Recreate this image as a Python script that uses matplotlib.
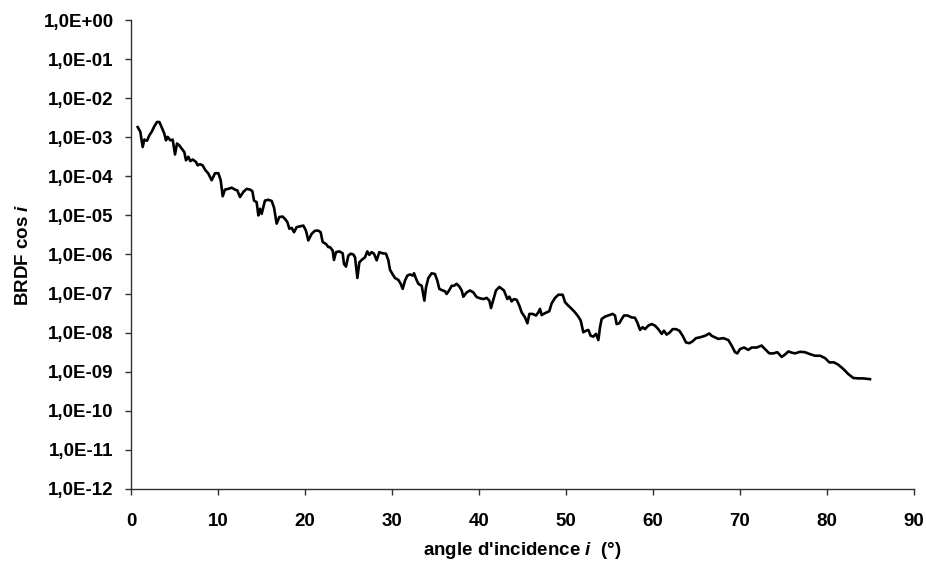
import numpy as np
import matplotlib
matplotlib.use("Agg")
import matplotlib.pyplot as plt
from matplotlib.ticker import FixedLocator, FuncFormatter

# angle d'incidence (deg) et log10(BRDF cos i)
angle_deg = [
    0.77, 1.07, 1.34, 1.53, 1.84, 2.11, 2.38, 2.68, 2.99, 3.26, 3.52, 3.83, 4.02, 4.21, 4.52,
    4.79, 5.06, 5.29, 5.56, 5.82, 6.13, 6.32, 6.59, 6.82, 7.09, 7.47, 7.66, 7.93, 8.24, 8.51,
    8.89, 9.27, 9.66, 10.04, 10.31, 10.54, 10.80, 11.19, 11.57, 11.95, 12.22, 12.53, 12.91,
    13.30, 13.68, 13.95, 14.14, 14.44, 14.64, 14.83, 15.02, 15.40, 15.79, 16.17, 16.44, 16.74,
    17.05, 17.43, 17.70, 17.97, 18.20, 18.47, 18.74, 19.04, 19.43, 19.81, 20.11, 20.38, 20.77,
    21.15, 21.53, 21.80, 22.03, 22.41, 22.68, 22.87, 23.18, 23.33, 23.56, 23.95, 24.33, 24.48,
    24.71, 24.98, 25.25, 25.56, 25.75, 26.02, 26.25, 26.51, 26.90, 27.16, 27.39, 27.66, 27.93,
    28.24, 28.54, 28.93, 29.31, 29.58, 29.77, 30.08, 30.34, 30.73, 31.00, 31.23, 31.49, 31.76,
    32.07, 32.38, 32.53, 32.76, 33.03, 33.41, 33.72, 33.91, 34.18, 34.56, 34.94, 35.21, 35.44,
    35.82, 36.09, 36.28, 36.59, 36.86, 37.13, 37.43, 37.74, 38.01, 38.20, 38.58, 38.97, 39.35,
    39.73, 40.11, 40.50, 40.88, 41.19, 41.38, 41.65, 41.95, 42.34, 42.87, 43.26, 43.49, 43.75,
    44.02, 44.33, 44.64, 44.90, 45.29, 45.56, 45.79, 46.17, 46.55, 46.82, 47.01, 47.20, 47.59,
    48.08, 48.35, 48.74, 49.12, 49.62, 49.89, 50.27, 50.65, 51.03, 51.42, 51.69, 51.99, 52.30,
    52.57, 52.84, 53.14, 53.45, 53.72, 53.91, 54.10, 54.48, 54.87, 55.36, 55.63, 55.82, 56.13,
    56.40, 56.67, 57.05, 57.55, 57.93, 58.20, 58.51, 58.81, 59.08, 59.46, 59.85, 60.23, 60.61,
    61.00, 61.26, 61.57, 61.95, 62.26, 62.64, 63.03, 63.41, 63.79, 64.18, 64.56, 64.94, 65.40,
    65.98, 66.48, 66.74, 67.13, 67.51, 68.08, 68.66, 69.04, 69.43, 69.69, 70.00, 70.46, 70.96,
    71.34, 71.92, 72.49, 72.87, 73.37, 73.83, 74.29, 74.79, 75.17, 75.56, 75.94, 76.32, 76.90,
    77.47, 78.05, 78.62, 79.20, 79.77, 80.27, 80.80, 81.30, 81.88, 82.45, 83.03, 83.60, 84.18,
    84.94,
]
log10_brdf = [
    -2.74, -2.86, -3.25, -3.06, -3.09, -2.95, -2.86, -2.72, -2.61, -2.61, -2.74, -2.91, -3.08,
    -2.99, -3.08, -3.06, -3.44, -3.16, -3.21, -3.29, -3.38, -3.59, -3.50, -3.61, -3.57, -3.63,
    -3.72, -3.69, -3.72, -3.83, -3.93, -4.10, -3.92, -3.92, -4.10, -4.51, -4.34, -4.32, -4.29,
    -4.34, -4.36, -4.53, -4.40, -4.32, -4.34, -4.38, -4.62, -4.66, -5.00, -4.83, -4.96, -4.62,
    -4.60, -4.63, -4.80, -5.21, -5.04, -5.03, -5.09, -5.17, -5.34, -5.32, -5.43, -5.30, -5.28,
    -5.26, -5.39, -5.64, -5.47, -5.39, -5.39, -5.43, -5.68, -5.73, -5.81, -5.81, -5.90, -6.14,
    -5.94, -5.92, -5.97, -6.24, -6.31, -6.03, -5.98, -6.00, -6.07, -6.60, -6.20, -6.14, -6.07,
    -5.92, -6.01, -5.94, -5.98, -6.15, -5.94, -5.97, -5.98, -6.15, -6.39, -6.51, -6.60, -6.65,
    -6.75, -6.88, -6.67, -6.54, -6.51, -6.54, -6.48, -6.62, -6.75, -6.80, -7.18, -6.84, -6.60,
    -6.48, -6.50, -6.67, -6.88, -6.92, -6.94, -7.01, -6.91, -6.80, -6.80, -6.75, -6.82, -6.92,
    -7.08, -6.97, -6.92, -6.97, -7.09, -7.12, -7.14, -7.11, -7.18, -7.37, -7.16, -6.92, -6.83,
    -6.92, -7.14, -7.08, -7.20, -7.14, -7.16, -7.31, -7.48, -7.61, -7.76, -7.52, -7.52, -7.56,
    -7.48, -7.39, -7.55, -7.50, -7.45, -7.25, -7.11, -7.03, -7.03, -7.22, -7.31, -7.39, -7.48,
    -7.59, -7.69, -7.99, -7.95, -7.93, -8.08, -8.10, -8.03, -8.19, -7.86, -7.65, -7.59, -7.56,
    -7.52, -7.56, -7.78, -7.76, -7.65, -7.56, -7.56, -7.61, -7.62, -7.74, -7.93, -7.86, -7.91,
    -7.82, -7.78, -7.82, -7.91, -8.03, -7.95, -8.05, -7.99, -7.91, -7.91, -7.95, -8.08, -8.25,
    -8.27, -8.22, -8.14, -8.12, -8.08, -8.02, -8.08, -8.12, -8.16, -8.14, -8.19, -8.33, -8.50,
    -8.53, -8.42, -8.38, -8.44, -8.38, -8.38, -8.33, -8.42, -8.53, -8.53, -8.50, -8.62, -8.56,
    -8.48, -8.51, -8.53, -8.49, -8.50, -8.55, -8.59, -8.59, -8.65, -8.76, -8.76, -8.82, -8.93,
    -9.06, -9.16, -9.17, -9.17, -9.19,
]

x_ticks = [0, 10, 20, 30, 40, 50, 60, 70, 80, 90]
y_exponents = list(range(-12, 1))

plt.rcParams['font.family'] = ['Liberation Sans', 'DejaVu Sans']
plt.rcParams['font.weight'] = 'bold'
plt.rcParams['mathtext.fontset'] = 'custom'
plt.rcParams['mathtext.it'] = 'Liberation Sans:italic:bold'
plt.rcParams['mathtext.rm'] = 'Liberation Sans:bold'


def sci_label(v, pos):
    e = int(round(np.log10(v)))
    return f"1,0E{e:+03d}"


fig = plt.figure(figsize=(9.26, 5.63), dpi=100)
ax = fig.add_axes([131 / 926, 1 - 489 / 563, 783 / 926, 469 / 563])

brdf = 10.0 ** np.array(log10_brdf)
ax.plot(angle_deg, brdf, color='black', linewidth=1.9)

ax.set_yscale('log')
ax.set_xlim(0, 90)
ax.set_ylim(1e-12, 1e0)
ax.xaxis.set_major_locator(FixedLocator(x_ticks))
ax.yaxis.set_major_locator(FixedLocator([10.0 ** e for e in y_exponents]))
ax.yaxis.set_minor_locator(FixedLocator([]))
ax.yaxis.set_major_formatter(FuncFormatter(sci_label))

for side in ('top', 'right'):
    ax.spines[side].set_visible(False)
for side in ('left', 'bottom'):
    ax.spines[side].set_linewidth(1.0)
    ax.spines[side].set_color('#303030')

ax.tick_params(axis='x', direction='out', length=4.5, width=1.0, pad=12.5,
               labelsize=13.5, color='#303030')
ax.tick_params(axis='y', direction='out', length=4.5, width=1.0, pad=8,
               labelsize=13.5, color='#303030')
for lab in ax.get_xticklabels() + ax.get_yticklabels():
    lab.set_fontweight('bold')

ax.set_xlabel(r"angle d'incidence $i$  (°)", fontsize=13.5, fontweight='bold')
ax.set_ylabel(r"BRDF cos $i$", fontsize=13.5, fontweight='bold')
ax.xaxis.set_label_coords(0.5, -0.109)
ax.yaxis.set_label_coords(-0.126, 0.5)

fig.savefig("out.png", dpi=100)
